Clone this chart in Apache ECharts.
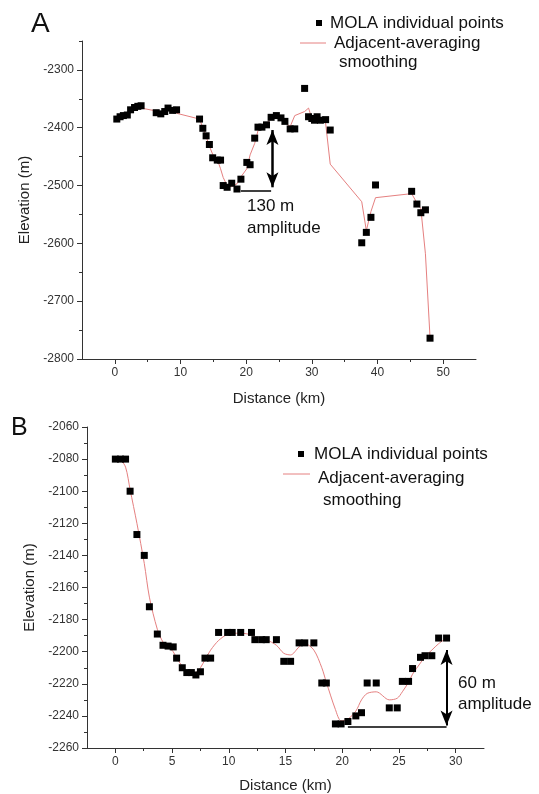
<!DOCTYPE html>
<html>
<head>
<meta charset="utf-8">
<script src="https://cdn.jsdelivr.net/npm/echarts@6/dist/echarts.min.js"></script>
<style>
  html, body { margin: 0; padding: 0; background: #fff; }
  #chart { width: 539px; height: 794px; }
</style>
</head>
<body>
<div id="chart"></div>
<script>
// ---- panel A ----
const distA = [0.3, 0.8, 1.3, 1.9, 2.4, 3.0, 3.5, 4.0, 6.3, 7.0, 7.6, 8.1, 8.8, 9.4,
  12.9, 13.4, 13.9, 14.4, 14.9, 15.6, 16.1, 16.5, 17.1, 17.8, 18.6, 19.2,
  20.1, 20.6, 21.3, 21.8, 22.4, 23.1, 23.8, 24.6, 25.3, 25.9, 26.7, 27.4,
  28.9, 29.5, 30.0, 30.4, 30.8, 31.3, 32.1, 32.8, 37.6, 38.3, 39.0, 39.7,
  45.2, 46.0, 46.6, 47.3, 48.0];
const elevA = [-2385, -2381, -2379, -2378, -2369, -2365, -2363, -2362, -2374, -2376, -2372, -2366, -2370, -2369,
  -2385, -2401, -2414, -2429, -2452, -2456, -2456, -2500, -2503, -2496, -2506, -2489,
  -2460, -2464, -2418, -2399, -2399, -2395, -2382, -2379, -2383, -2389, -2402, -2402,
  -2332, -2381, -2384, -2387, -2381, -2387, -2386, -2404, -2599, -2581, -2555, -2499,
  -2510, -2532, -2547, -2542, -2764];
const smoothA = [-2384, -2382, -2379, -2375, -2371, -2366, -2363, -2366, -2371, -2374, -2371, -2369, -2368, -2375,
  -2385, -2400, -2415, -2432, -2446, -2455, -2471, -2486, -2500, -2502, -2497, -2485,
  -2471, -2447, -2427, -2405, -2398, -2392, -2385, -2381, -2384, -2391, -2398, -2379,
  -2372, -2366, -2384, -2384, -2385, -2385, -2392, -2463, -2528, -2578, -2545, -2521,
  -2514, -2530, -2540, -2618, -2763];
const xTicksA = [0, 10, 20, 30, 40, 50];
const xMinorA = [5, 15, 25, 35, 45];
const yTicksA = [-2800, -2700, -2600, -2500, -2400, -2300];
const yMinorA = [-2750, -2650, -2550, -2450, -2350, -2250];
const arrowA = [[24.0, -2404], [24.0, -2503]];
const baseA = [[19.2, -2509], [23.8, -2509]];

// ---- panel B ----
const distB = [0.0, 0.45, 0.9, 1.3, 1.9, 2.55, 3.0, 3.7, 4.2, 4.65, 5.1, 5.4, 5.9,
  6.3, 6.7, 7.1, 7.5, 7.9, 8.4, 9.1, 9.9, 10.3, 11.05, 12.0, 12.3, 12.9, 13.3, 14.2,
  14.85, 15.45, 16.2, 16.7, 17.5, 18.2, 18.6, 19.4, 19.9, 20.5, 21.2, 21.7, 22.2, 23.0,
  24.15, 24.85, 25.3, 25.85, 26.2, 26.9, 27.3, 27.9, 28.5, 29.2];
const elevB = [-2080, -2080, -2080, -2100, -2127, -2140, -2172, -2189, -2196, -2196.5, -2197, -2204, -2210,
  -2213, -2213, -2214.5, -2212.5, -2204, -2204, -2188, -2188, -2188, -2188, -2188, -2192.5, -2192.5, -2192.5, -2192.5,
  -2206, -2206, -2194.5, -2194.5, -2194.5, -2219.5, -2219.5, -2245, -2245, -2243.5, -2240, -2238, -2219.5, -2219.5,
  -2235, -2235, -2218.5, -2218.5, -2210.5, -2203.5, -2202.5, -2202.5, -2191.5, -2191.5];
const smoothB = [-2080, -2080.5, -2085, -2099, -2120, -2145, -2166, -2186, -2194, -2197, -2200, -2204, -2209,
  -2212, -2213.5, -2213, -2210, -2205, -2199, -2193, -2189, -2188.5, -2188.5, -2189.5, -2191, -2192, -2192.5, -2196,
  -2201, -2202, -2197, -2195, -2199, -2210, -2219, -2236, -2243, -2242, -2237, -2230, -2226, -2225,
  -2230, -2229, -2225, -2219, -2214, -2207, -2203, -2199, -2195, -2191.5];
const xTicksB = [0, 5, 10, 15, 20, 25, 30];
const xMinorB = [2.5, 7.5, 12.5, 17.5, 22.5, 27.5];
const yTicksB = [-2260, -2240, -2220, -2200, -2180, -2160, -2140, -2120, -2100, -2080, -2060];
const yMinorB = [-2250, -2230, -2210, -2190, -2170, -2150, -2130, -2110, -2090, -2070];
const arrowB = [[29.2, -2199], [29.2, -2246]];
const baseB = [[20.5, -2247], [29.2, -2247]];

const FONT = '"Liberation Sans", Arial, sans-serif';
const AXIS = '#333';
const RED = '#e58080';

function zip(xs, ys) { return xs.map(function (x, i) { return [x, ys[i]]; }); }

// main axis + overlaid axis that only draws the short minor ticks
function axisPair(isX, grid, min, max, ticks, minor, name, nameGap) {
  const pos = isX ? 'bottom' : 'left';
  const main = {
    type: 'value', gridIndex: grid, min: min, max: max, position: pos,
    name: name, nameLocation: 'middle', nameGap: nameGap,
    nameTextStyle: { fontSize: 15, color: '#222', fontFamily: FONT },
    axisLine: { show: true, onZero: false, lineStyle: { color: AXIS, width: 1 } },
    axisTick: { show: true, customValues: ticks, length: 5, lineStyle: { color: AXIS } },
    axisLabel: { customValues: ticks, fontSize: 12, color: '#333', fontFamily: FONT, margin: 8,
      formatter: function (v) { return String(v); } },
    splitLine: { show: false }
  };
  const sub = {
    type: 'value', gridIndex: grid, min: min, max: max, position: pos,
    axisLine: { show: false, onZero: false },
    axisTick: { show: true, customValues: minor, length: 3, lineStyle: { color: AXIS } },
    axisLabel: { show: false },
    splitLine: { show: false }
  };
  return [main, sub];
}

function arrowMark(arrow, base, w) {
  return {
    silent: true, animation: false,
    label: { show: false },
    emphasis: { disabled: true },
    data: [
      [{ coord: arrow[0], symbol: 'arrow', symbolSize: [9, 15], lineStyle: { color: '#000', width: w, type: 'solid' } },
       { coord: arrow[1], symbol: 'arrow', symbolSize: [9, 15] }],
      [{ coord: base[0], symbol: 'none', lineStyle: { color: '#000', width: 1.5, type: 'solid' } },
       { coord: base[1], symbol: 'none' }]
    ]
  };
}

function txt(x, y, s, size) {
  return { type: 'text', x: x, y: y,
    style: { text: s, fontSize: size, fontFamily: FONT, fill: '#111', verticalAlign: 'middle' } };
}

const xA = axisPair(true, 0, -5, 55, xTicksA, xMinorA, 'Distance (km)', 32);
const yA = axisPair(false, 0, -2800, -2250, yTicksA, yMinorA, 'Elevation (m)', 48);
const xB = axisPair(true, 1, -2.5, 32.5, xTicksB, xMinorB, 'Distance (km)', 30);
const yB = axisPair(false, 1, -2260, -2060, yTicksB, yMinorB, 'Elevation (m)', 50);

const option = {
  animation: false,
  backgroundColor: '#fff',
  grid: [
    { left: 82, top: 41, width: 394, height: 318 },
    { left: 87, top: 427, width: 397, height: 321 }
  ],
  xAxis: [xA[0], xA[1], xB[0], xB[1]],
  yAxis: [yA[0], yA[1], yB[0], yB[1]],
  series: [
    { type: 'line', xAxisIndex: 0, yAxisIndex: 0, data: zip(distA, smoothA),
      showSymbol: false, lineStyle: { color: RED, width: 1 }, z: 2 },
    { type: 'scatter', xAxisIndex: 0, yAxisIndex: 0, data: zip(distA, elevA),
      symbol: 'rect', symbolSize: 7, itemStyle: { color: '#000', opacity: 1 }, z: 3,
      markLine: arrowMark(arrowA, baseA, 2.5) },
    { type: 'line', xAxisIndex: 2, yAxisIndex: 2, data: zip(distB, smoothB),
      showSymbol: false, smooth: 0.3, lineStyle: { color: RED, width: 1 }, z: 2 },
    { type: 'scatter', xAxisIndex: 2, yAxisIndex: 2, data: zip(distB, elevB),
      symbol: 'rect', symbolSize: 7, itemStyle: { color: '#000', opacity: 1 }, z: 3,
      markLine: arrowMark(arrowB, baseB, 2) }
  ],
  graphic: [
    txt(31, 24, 'A', 28),
    txt(11, 428, 'B', 25),
    // legend A
    { type: 'rect', shape: { x: 316, y: 20, width: 6, height: 6 }, style: { fill: '#000' } },
    txt(330, 23, 'MOLA individual points', 17),
    { type: 'line', shape: { x1: 300, y1: 43, x2: 326, y2: 43 }, style: { stroke: RED, lineWidth: 1 } },
    txt(334, 43, 'Adjacent-averaging', 17),
    txt(339, 62, 'smoothing', 17),
    // legend B
    { type: 'rect', shape: { x: 298, y: 451, width: 6, height: 6 }, style: { fill: '#000' } },
    txt(314, 454, 'MOLA individual points', 17),
    { type: 'line', shape: { x1: 283, y1: 474, x2: 310, y2: 474 }, style: { stroke: RED, lineWidth: 1 } },
    txt(318, 478, 'Adjacent-averaging', 17),
    txt(323, 500, 'smoothing', 17),
    // amplitude notes
    txt(247, 206, '130 m', 17),
    txt(247, 228, 'amplitude', 17),
    txt(458, 683, '60 m', 17),
    txt(458, 704, 'amplitude', 17)
  ]
};

const chart = echarts.init(document.getElementById('chart'), null, { renderer: 'canvas' });
chart.setOption(option);
</script>
</body>
</html>
